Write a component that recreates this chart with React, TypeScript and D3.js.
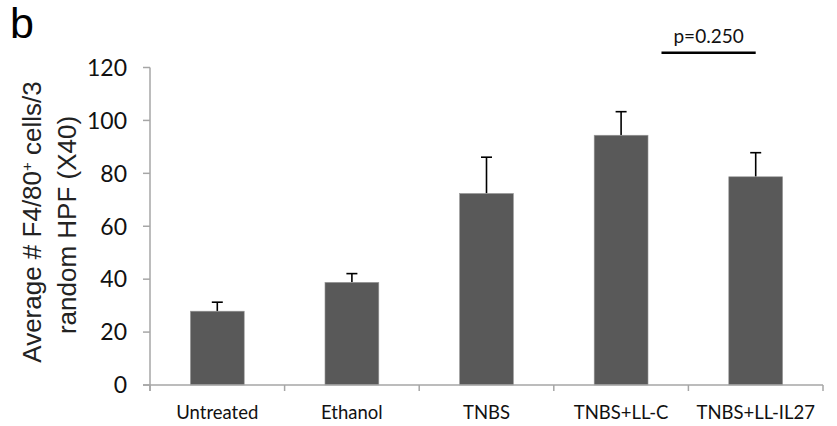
import { useMemo } from 'react'
import * as d3 from 'd3'

const categories = ['Untreated', 'Ethanol', 'TNBS', 'TNBS+LL-C', 'TNBS+LL-IL27']
const means = [27.9, 38.8, 72.4, 94.4, 78.7]
const errors = [3.4, 3.3, 13.7, 8.9, 9.1]
const yTicks = [0, 20, 40, 60, 80, 100, 120]
const pLabel = 'p=0.250'
const pPair = ['TNBS+LL-C', 'TNBS+LL-IL27']

const W = 837
const H = 426
const margin = { top: 67.5, right: 14, bottom: 41, left: 150 }

const AXIS = '#a6a6a6'
const BAR = '#595959'
const SANS = '"Liberation Sans", Arial, sans-serif'
const CAL = 'Lato, "Open Sans", sans-serif'

export default function App() {
  const x = useMemo(
    () => d3.scaleBand<string>().domain(categories).range([margin.left, W - margin.right]).padding(0),
    []
  )
  const y = useMemo(
    () => d3.scaleLinear().domain([0, 120]).range([H - margin.bottom, margin.top]),
    []
  )

  const bw = x.bandwidth() * 0.4
  const y0 = y(0)
  const capHalf = 5.5

  // significance bracket between the last two groups
  const pStart = (x(pPair[0]) ?? 0) + x.bandwidth() * 0.8
  const pEnd = (x(pPair[1]) ?? 0) + x.bandwidth() / 2
  const pY = y(125.6)

  return (
    <div>
      <style>{`body{margin:0}`}</style>
      <svg width={W} height={H} style={{ display: 'block', background: '#fff' }}>
        {/* panel letter */}
        <text x={10} y={38} fontFamily={SANS} fontSize={43}>b</text>

        {/* y axis label */}
        <g transform={`translate(41,222) rotate(-90)`}>
          <text textAnchor="middle" fontFamily={SANS} fontSize={26} fill="#222">
            Average # F4/80<tspan dy={-9} fontSize={15}>+</tspan>
            <tspan dy={9}> cells/3</tspan>
          </text>
        </g>
        <g transform={`translate(76,225) rotate(-90)`}>
          <text textAnchor="middle" fontFamily={SANS} fontSize={26} fill="#222">random HPF (X40)</text>
        </g>

        {/* y axis */}
        <line x1={margin.left} x2={margin.left} y1={y(120)} y2={y0 + 6} stroke={AXIS} strokeWidth={1.5} />
        {yTicks.map(t => (
          <g key={t}>
            <line x1={margin.left - 7} x2={margin.left} y1={y(t)} y2={y(t)} stroke={AXIS} strokeWidth={1.5} />
            <text x={127} y={y(t)} dy="0.36em" textAnchor="end" fontFamily={CAL} fontSize={23} fill="#111">{t}</text>
          </g>
        ))}

        {/* bars */}
        {categories.map((c, i) => {
          const cx = (x(c) ?? 0) + x.bandwidth() / 2
          return (
            <g key={c}>
              <line x1={cx} x2={cx} y1={y(means[i])} y2={y(means[i] + errors[i])} stroke="#000" strokeWidth={1.6} />
              <line x1={cx - capHalf} x2={cx + capHalf} y1={y(means[i] + errors[i])} y2={y(means[i] + errors[i])} stroke="#000" strokeWidth={1.6} />
              <rect x={cx - bw / 2} y={y(means[i])} width={bw} height={y0 - y(means[i])} fill={BAR} stroke="#9a9a9a" strokeWidth={0.6} />
            </g>
          )
        })}

        {/* x axis */}
        <line x1={margin.left - 7} x2={W - margin.right} y1={y0} y2={y0} stroke={AXIS} strokeWidth={1.5} />
        {[...categories.map(c => x(c) ?? 0), W - margin.right].map((tx, i) => (
          <line key={i} x1={tx} x2={tx} y1={y0} y2={y0 + 6} stroke={AXIS} strokeWidth={1.5} />
        ))}
        {categories.map(c => (
          <text key={c} x={(x(c) ?? 0) + x.bandwidth() / 2} y={418.5} textAnchor="middle" fontFamily={CAL} fontSize={18.5} fill="#111">{c}</text>
        ))}

        {/* significance */}
        <line x1={pStart} x2={pEnd} y1={pY} y2={pY} stroke="#000" strokeWidth={2.5} />
        <text x={(pStart + pEnd) / 2} y={42.5} textAnchor="middle" fontFamily={CAL} fontSize={19} fill="#111">{pLabel}</text>
      </svg>
    </div>
  )
}
